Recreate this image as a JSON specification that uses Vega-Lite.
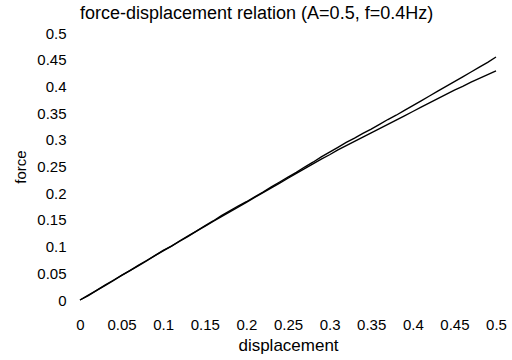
{
  "$schema": "https://vega.github.io/schema/vega-lite/v6.json",
  "width": 416,
  "height": 267,
  "autosize": {"type": "none"},
  "padding": {"left": 80, "top": 33, "right": 16, "bottom": 60},
  "background": "white",
  "config": {
    "view": {"stroke": null},
    "font": "Liberation Sans",
    "axis": {"domain": false, "grid": false, "ticks": false, "labelFont": "Liberation Sans", "titleFont": "Liberation Sans", "labelFontSize": 15, "titleFontSize": 15, "labelColor": "#000", "titleColor": "#000", "titleFontWeight": "normal"}
  },
  "title": {"text": "force-displacement relation (A=0.5, f=0.4Hz)", "anchor": "start", "frame": "group", "font": "Liberation Sans", "fontSize": 18, "fontWeight": "normal", "color": "#000", "offset": 3},
  "data": {"values": [
    {"d": 0.00, "u": 0.000, "l": 0.000},
    {"d": 0.01, "u": 0.009, "l": 0.008},
    {"d": 0.02, "u": 0.018, "l": 0.018},
    {"d": 0.03, "u": 0.028, "l": 0.027},
    {"d": 0.04, "u": 0.037, "l": 0.036},
    {"d": 0.05, "u": 0.046, "l": 0.046},
    {"d": 0.06, "u": 0.055, "l": 0.055},
    {"d": 0.07, "u": 0.065, "l": 0.064},
    {"d": 0.08, "u": 0.074, "l": 0.073},
    {"d": 0.09, "u": 0.083, "l": 0.083},
    {"d": 0.10, "u": 0.093, "l": 0.092},
    {"d": 0.11, "u": 0.101, "l": 0.101},
    {"d": 0.12, "u": 0.111, "l": 0.110},
    {"d": 0.13, "u": 0.120, "l": 0.119},
    {"d": 0.14, "u": 0.129, "l": 0.129},
    {"d": 0.15, "u": 0.139, "l": 0.138},
    {"d": 0.16, "u": 0.148, "l": 0.147},
    {"d": 0.17, "u": 0.158, "l": 0.156},
    {"d": 0.18, "u": 0.167, "l": 0.165},
    {"d": 0.19, "u": 0.176, "l": 0.174},
    {"d": 0.20, "u": 0.184, "l": 0.183},
    {"d": 0.21, "u": 0.193, "l": 0.192},
    {"d": 0.22, "u": 0.202, "l": 0.201},
    {"d": 0.23, "u": 0.212, "l": 0.210},
    {"d": 0.24, "u": 0.221, "l": 0.219},
    {"d": 0.25, "u": 0.230, "l": 0.228},
    {"d": 0.26, "u": 0.239, "l": 0.237},
    {"d": 0.27, "u": 0.249, "l": 0.246},
    {"d": 0.28, "u": 0.258, "l": 0.255},
    {"d": 0.29, "u": 0.268, "l": 0.264},
    {"d": 0.30, "u": 0.277, "l": 0.272},
    {"d": 0.31, "u": 0.286, "l": 0.281},
    {"d": 0.32, "u": 0.295, "l": 0.289},
    {"d": 0.33, "u": 0.303, "l": 0.297},
    {"d": 0.34, "u": 0.312, "l": 0.305},
    {"d": 0.35, "u": 0.320, "l": 0.313},
    {"d": 0.36, "u": 0.329, "l": 0.321},
    {"d": 0.37, "u": 0.338, "l": 0.329},
    {"d": 0.38, "u": 0.346, "l": 0.337},
    {"d": 0.39, "u": 0.355, "l": 0.345},
    {"d": 0.40, "u": 0.364, "l": 0.353},
    {"d": 0.41, "u": 0.373, "l": 0.361},
    {"d": 0.42, "u": 0.382, "l": 0.369},
    {"d": 0.43, "u": 0.391, "l": 0.377},
    {"d": 0.44, "u": 0.400, "l": 0.385},
    {"d": 0.45, "u": 0.409, "l": 0.393},
    {"d": 0.46, "u": 0.418, "l": 0.400},
    {"d": 0.47, "u": 0.427, "l": 0.408},
    {"d": 0.48, "u": 0.436, "l": 0.415},
    {"d": 0.49, "u": 0.445, "l": 0.422},
    {"d": 0.50, "u": 0.455, "l": 0.429}
  ]},
  "transform": [{"fold": ["u", "l"], "as": ["branch", "force"]}],
  "mark": {"type": "line", "color": "#000", "strokeWidth": 1.4},
  "encoding": {
    "x": {"field": "d", "type": "quantitative", "title": "displacement", "scale": {"domain": [0, 0.5], "nice": false},
      "axis": {"values": [0, 0.05, 0.1, 0.15, 0.2, 0.25, 0.3, 0.35, 0.4, 0.45, 0.5], "format": "~g", "labelPadding": 17, "titlePadding": 5, "titleFontSize": 17, "labelFlush": false}},
    "y": {"field": "force", "type": "quantitative", "title": "force", "scale": {"domain": [0, 0.5], "nice": false},
      "axis": {"values": [0, 0.05, 0.1, 0.15, 0.2, 0.25, 0.3, 0.35, 0.4, 0.45, 0.5], "format": "~g", "labelPadding": 14, "titlePadding": 8, "labelFlush": false}},
    "detail": {"field": "branch"}
  }
}
